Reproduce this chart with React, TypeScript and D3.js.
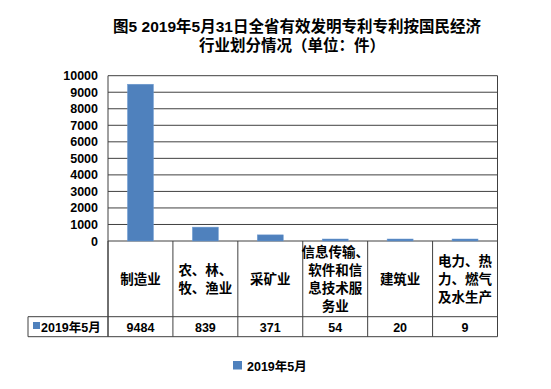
import React from "react";
import * as d3 from "d3";

const categories: string[][] = [
  ["制造业"],
  ["农、林、", "牧、渔业"],
  ["采矿业"],
  ["信息传输、", "软件和信", "息技术服", "务业"],
  ["建筑业"],
  ["电力、热", "力、燃气", "及水生产"],
];
const values = [9484, 839, 371, 54, 20, 9];
const seriesName = "2019年5月";
const yTicks = [0, 1000, 2000, 3000, 4000, 5000, 6000, 7000, 8000, 9000, 10000];
const titleLines = ["图5\u00a02019年5月31日全省有效发明专利专利按国民经济", "行业划分情况（单位：件）"];

const W = 551, H = 389;
const left = 108, right = 497.5, top = 75.7, bottom = 241;
const catRowBottom = 316.7, dataRowBottom = 336.7, keyLeft = 28;
const lineColor = "#404040";
const barColor = "#4F81BD";
const font = "'Liberation Sans', Arial, 'Noto Sans CJK SC', sans-serif";

export default function App() {
  const x = d3.scaleBand<number>().domain(d3.range(values.length)).range([left, right]).paddingInner(0).paddingOuter(0);
  const y = d3.scaleLinear().domain([0, 10000]).range([bottom, top]);
  const bw = x.bandwidth() * 0.4;
  return (
    <svg width={W} height={H} style={{ position: "absolute", left: 0, top: 0, fontFamily: font }}>
      <rect width={W} height={H} fill="#fff" />
      {titleLines.map((t, i) => (
        <text key={i} x={i === 0 ? 297 : 292} y={i === 0 ? 32 : 51} textAnchor="middle" fontSize={15.5} fontWeight="bold" fill="#000">{t}</text>
      ))}
      {yTicks.map((t) => (
        <g key={t}>
          <line x1={left} x2={right} y1={y(t)} y2={y(t)} stroke={lineColor} strokeWidth={1} />
          <text x={98} y={y(t) + 4.5} textAnchor="end" fontSize={12.5} fontWeight="bold">{t}</text>
        </g>
      ))}
      <line x1={left} x2={left} y1={top} y2={dataRowBottom} stroke={lineColor} />
      <line x1={right} x2={right} y1={top} y2={dataRowBottom} stroke={lineColor} />
      {values.map((v, i) => {
        const h = Math.max(bottom - y(v), 2);
        return (
          <rect key={i} x={x(i)! + (x.bandwidth() - bw) / 2} width={bw} y={bottom - h} height={h} fill={barColor} stroke="#6e9bd1" strokeWidth={0.5} />
        );
      })}
      {values.map((_, i) => (
        <line key={"v" + i} x1={x(i)!} x2={x(i)!} y1={bottom} y2={dataRowBottom} stroke={lineColor} />
      ))}
      <line x1={keyLeft} x2={right} y1={catRowBottom} y2={catRowBottom} stroke={lineColor} />
      <line x1={keyLeft} x2={right} y1={dataRowBottom} y2={dataRowBottom} stroke={lineColor} />
      <line x1={keyLeft} x2={keyLeft} y1={catRowBottom} y2={dataRowBottom} stroke={lineColor} />
      {categories.map((lines, i) => {
        const cx = x(i)! + x.bandwidth() / 2;
        const lh = 18;
        const mid = (bottom + catRowBottom) / 2;
        const y0 = mid - ((lines.length - 1) * lh) / 2 + 5;
        return (
          <text key={i} textAnchor="middle" fontSize={13.5} fontWeight="bold">
            {lines.map((l, j) => (
              <tspan key={j} x={cx} y={y0 + j * lh}>{l}</tspan>
            ))}
          </text>
        );
      })}
      {values.map((v, i) => (
        <text key={"d" + i} x={x(i)! + x.bandwidth() / 2} y={331.5} textAnchor="middle" fontSize={12.5} fontWeight="bold">{v}</text>
      ))}
      <rect x={33} y={322} width={7} height={7} fill={barColor} />
      <text x={41} y={331.5} fontSize={12.5} fontWeight="bold">{seriesName}</text>
      <rect x={233} y={361} width={9} height={8.5} fill={barColor} />
      <text x={247} y={370.5} fontSize={12.5} fontWeight="bold">{seriesName}</text>
    </svg>
  );
}
